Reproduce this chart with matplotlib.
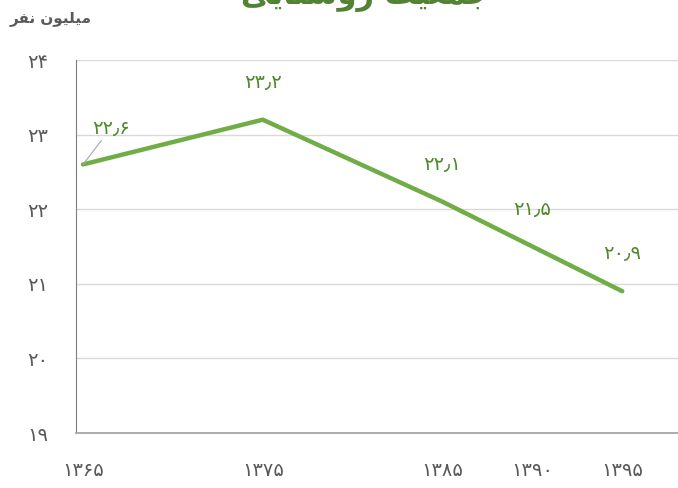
import matplotlib
matplotlib.use("Agg")
import matplotlib.pyplot as plt

years = [1365, 1375, 1385, 1390, 1395]
population = [22.6, 23.2, 22.1, 21.5, 20.9]
y_ticks = [19, 20, 21, 22, 23, 24]

FA_DIGITS = str.maketrans("0123456789.", "۰۱۲۳۴۵۶۷۸۹٫")


def fa(value):
    return str(value).translate(FA_DIGITS)


def visual(forms):
    # contextual presentation forms in logical order -> left-to-right drawing order
    return "".join(reversed(forms))


title_text = visual("ﺟﻤﻌﻴﺖ ﺭﻭﺳﺘﺎﻳﻰ")
unit_text = visual("ﻣﻴﻠﻴﻮﻥ ﻧﻔﺮ")

line_color = "#70ad47"
label_color = "#4f8a2b"
text_gray = "#595959"

plt.rcParams["font.family"] = ["DejaVu Sans"]

fig = plt.figure(figsize=(6.78, 4.88), dpi=100)
ax = fig.add_axes([76 / 678, 1 - 433 / 488, 1 - 76 / 678, (433 - 60) / 488])

ax.plot(years, population, color=line_color, linewidth=3.2, solid_capstyle="round", zorder=3)

ax.set_xlim(1364.61, 1398.1)
ax.set_ylim(19, 24)
ax.set_xticks(years)
ax.set_xticklabels([fa(y) for y in years])
ax.set_yticks(y_ticks)
ax.set_yticklabels([fa(y) for y in y_ticks])
ax.tick_params(length=0, labelsize=14, colors=text_gray)
ax.tick_params(axis="x", pad=20)
ax.tick_params(axis="y", pad=20)

for gy in y_ticks[1:]:
    ax.axhline(gy, color="#d9d9d9", linewidth=1, zorder=1)

for side in ["top", "right"]:
    ax.spines[side].set_visible(False)
ax.spines["left"].set_color("#7f7f7f")
ax.spines["bottom"].set_color("#a6a6a6")
ax.spines["bottom"].set_linewidth(1.3)

for i, (x, y) in enumerate(zip(years, population)):
    if i == 0:
        ax.annotate(fa(y), (x, y), xytext=(20, 26), textcoords="offset points",
                    ha="center", va="center", fontsize=14, color=label_color,
                    arrowprops=dict(arrowstyle="-", color="#a6a6a6", lw=0.8, shrinkA=0, shrinkB=0))
    else:
        ax.annotate(fa(y), (x, y), xytext=(0, 27), textcoords="offset points",
                    ha="center", va="center", fontsize=14, color=label_color)

fig.text(365 / 678, 1.008, title_text, ha="center", va="center", fontsize=22,
         fontweight="bold", color="#548235")
fig.text(51 / 678, 1 - 18 / 488, unit_text, ha="center", va="center", fontsize=11,
         fontweight="bold", color=text_gray)

fig.savefig("out.png", dpi=100)
